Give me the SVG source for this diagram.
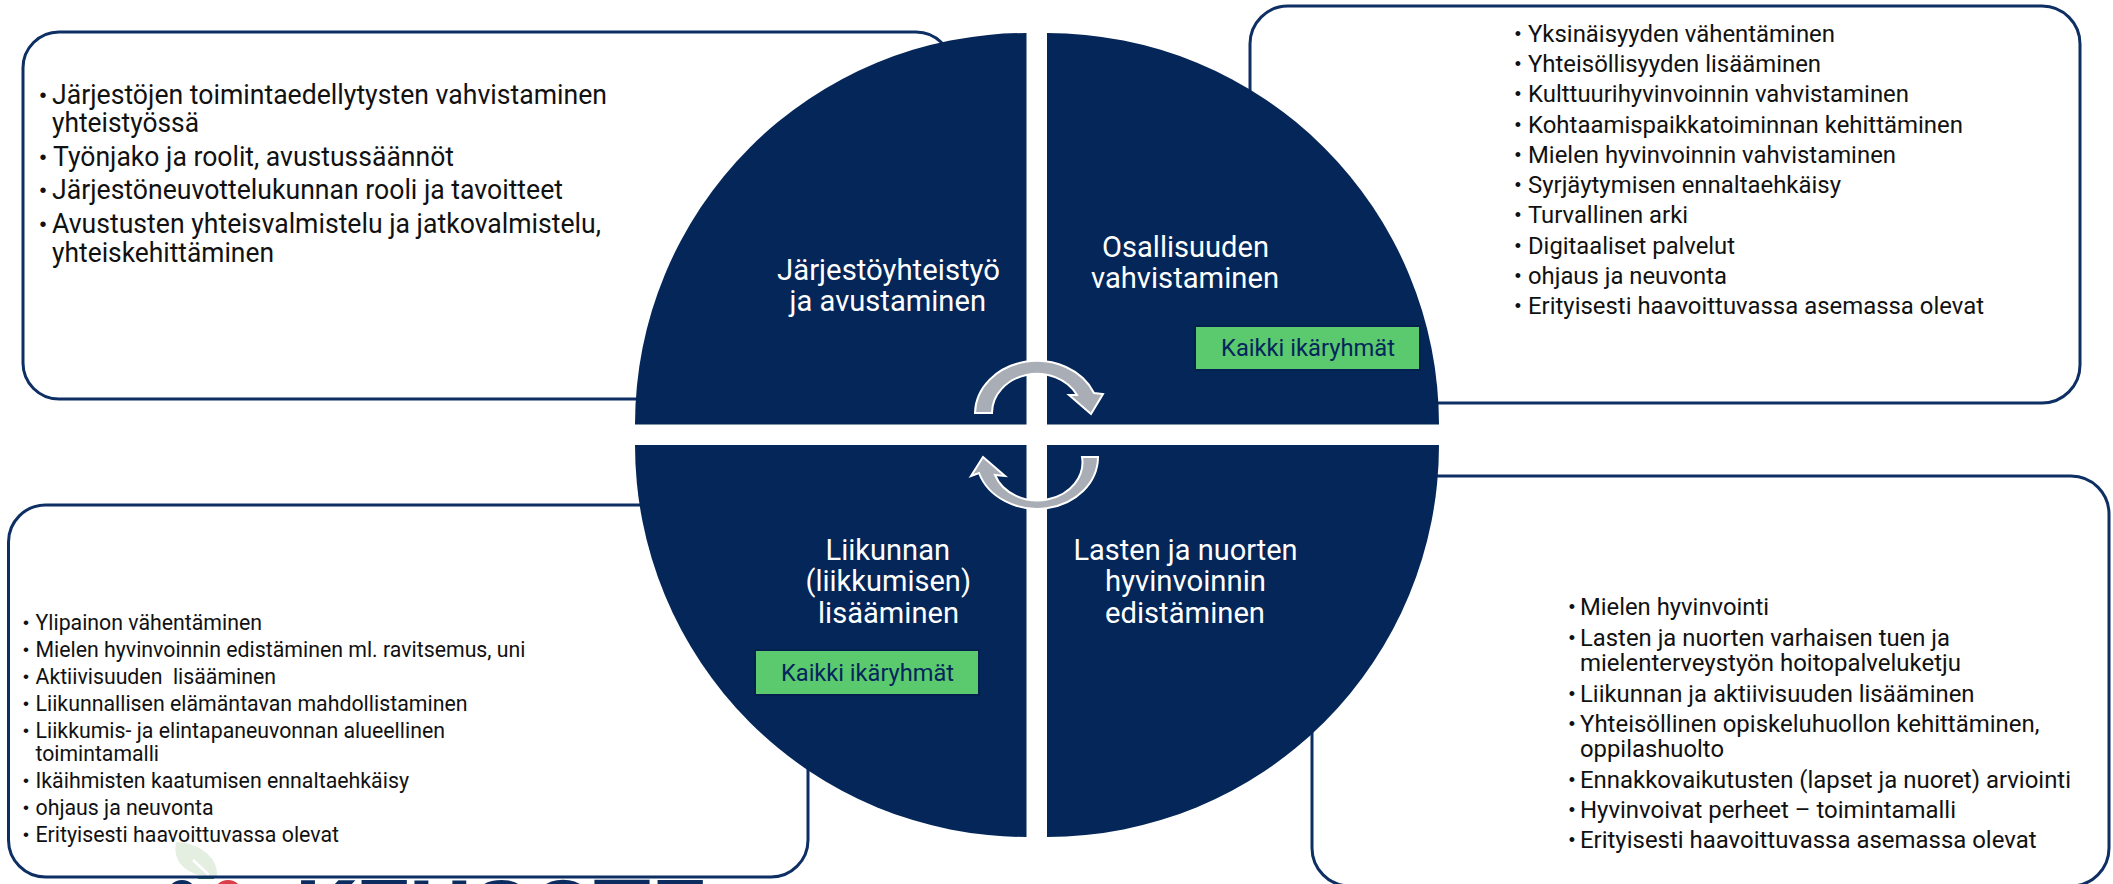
<svg xmlns="http://www.w3.org/2000/svg" width="2113" height="884" viewBox="0 0 2113 884">
<style>
text{font-family:Roboto,"Liberation Sans",sans-serif}
.box{fill:none;stroke:#0e2f63;stroke-width:3}
.quad{fill:#042658}
.lab{fill:#fff;font-size:30px;}
.tag{fill:#5bc96d;stroke:#04204f;stroke-width:2}
.tagt{fill:#04265c;font-size:23px}
.arrow{fill:#a9adb5;stroke:#fff;stroke-width:2}
.t{fill:#111}
.b{fill:#111;text-anchor:middle;font-family:"Liberation Sans",sans-serif;transform:translateY(-1px)}
.s24{font-size:27px}.s22{font-size:24.500px}.s20{font-size:22px}
.b.s24{font-size:20px}.b.s22{font-size:18px}.b.s20{font-size:17px}
</style>
<rect width="2113" height="884" fill="#fff"/>
<g id="logo">
<path d="M176 842C196 842 219 856 217 877C196 878 171 868 176 842Z" fill="#e4efe2"/>
<path d="M193 860L209 875" stroke="#fff" stroke-width="2.500" fill="none"/>
<path d="M198 878L214 878" stroke="#2f8a3c" stroke-width="2" fill="none"/>
<circle cx="182" cy="895" r="15" fill="#0c2c5f"/>
<circle cx="228" cy="895" r="15" fill="#d9404a"/>
<text x="295" y="937" font-size="80" font-weight="700" fill="#0c2c5f" textLength="410" lengthAdjust="spacingAndGlyphs">KEUSOTE</text>
</g>
<g id="box-jarjesto">
<rect class="box" x="23" y="32" width="929" height="367" rx="36" ry="36"/>
<text class="b s24" x="43" y="103">•</text><text class="t s24" x="52" y="104" textLength="555" lengthAdjust="spacingAndGlyphs">Järjestöjen toimintaedellytysten vahvistaminen</text>
<text class="t s24" x="52" y="132" textLength="147" lengthAdjust="spacingAndGlyphs">yhteistyössä</text>
<text class="b s24" x="43" y="165">•</text><text class="t s24" x="53" y="166" textLength="401" lengthAdjust="spacingAndGlyphs">Työnjako ja roolit, avustussäännöt</text>
<text class="b s24" x="43" y="198">•</text><text class="t s24" x="52" y="199" textLength="511" lengthAdjust="spacingAndGlyphs">Järjestöneuvottelukunnan rooli ja tavoitteet</text>
<text class="b s24" x="43" y="232">•</text><text class="t s24" x="52" y="233" textLength="549" lengthAdjust="spacingAndGlyphs">Avustusten yhteisvalmistelu ja jatkovalmistelu,</text>
<text class="t s24" x="52" y="262" textLength="222" lengthAdjust="spacingAndGlyphs">yhteiskehittäminen</text>
</g>
<g id="box-osallisuus">
<rect class="box" x="1250" y="6" width="830" height="397" rx="38" ry="38"/>
<text class="b s22" x="1518" y="41">•</text><text class="t s22" x="1528" y="42" textLength="307" lengthAdjust="spacingAndGlyphs">Yksinäisyyden vähentäminen</text>
<text class="b s22" x="1518" y="71">•</text><text class="t s22" x="1528" y="72" textLength="293" lengthAdjust="spacingAndGlyphs">Yhteisöllisyyden lisääminen</text>
<text class="b s22" x="1518" y="101">•</text><text class="t s22" x="1528" y="102" textLength="381" lengthAdjust="spacingAndGlyphs">Kulttuurihyvinvoinnin vahvistaminen</text>
<text class="b s22" x="1518" y="132">•</text><text class="t s22" x="1528" y="133" textLength="435" lengthAdjust="spacingAndGlyphs">Kohtaamispaikkatoiminnan kehittäminen</text>
<text class="b s22" x="1518" y="162">•</text><text class="t s22" x="1528" y="163" textLength="368" lengthAdjust="spacingAndGlyphs">Mielen hyvinvoinnin vahvistaminen</text>
<text class="b s22" x="1518" y="192">•</text><text class="t s22" x="1528" y="193" textLength="313" lengthAdjust="spacingAndGlyphs">Syrjäytymisen ennaltaehkäisy</text>
<text class="b s22" x="1518" y="222">•</text><text class="t s22" x="1528" y="223" textLength="160" lengthAdjust="spacingAndGlyphs">Turvallinen arki</text>
<text class="b s22" x="1518" y="253">•</text><text class="t s22" x="1528" y="254" textLength="207" lengthAdjust="spacingAndGlyphs">Digitaaliset palvelut</text>
<text class="b s22" x="1518" y="283">•</text><text class="t s22" x="1528" y="284" textLength="199" lengthAdjust="spacingAndGlyphs">ohjaus ja neuvonta</text>
<text class="b s22" x="1518" y="313">•</text><text class="t s22" x="1528" y="314" textLength="456" lengthAdjust="spacingAndGlyphs">Erityisesti haavoittuvassa asemassa olevat</text>
</g>
<g id="box-liikunta">
<rect class="box" x="8.500" y="505" width="799.500" height="372" rx="37" ry="37"/>
<text class="b s20" x="26" y="629">•</text><text class="t s20" x="35.500" y="630" textLength="226.500" lengthAdjust="spacingAndGlyphs">Ylipainon vähentäminen</text>
<text class="b s20" x="26" y="656">•</text><text class="t s20" x="35.500" y="657" textLength="490" lengthAdjust="spacingAndGlyphs">Mielen hyvinvoinnin edistäminen ml. ravitsemus, uni</text>
<text class="b s20" x="26" y="683">•</text><text class="t s20" x="35.500" y="684" textLength="240.500" lengthAdjust="spacingAndGlyphs" style="white-space:pre">Aktiivisuuden  lisääminen</text>
<text class="b s20" x="26" y="710">•</text><text class="t s20" x="35.500" y="711" textLength="432" lengthAdjust="spacingAndGlyphs">Liikunnallisen elämäntavan mahdollistaminen</text>
<text class="b s20" x="26" y="737">•</text><text class="t s20" x="35.500" y="738" textLength="409.500" lengthAdjust="spacingAndGlyphs">Liikkumis- ja elintapaneuvonnan alueellinen</text>
<text class="t s20" x="35.500" y="761" textLength="123.500" lengthAdjust="spacingAndGlyphs">toimintamalli</text>
<text class="b s20" x="26" y="787">•</text><text class="t s20" x="35.500" y="788" textLength="373.500" lengthAdjust="spacingAndGlyphs">Ikäihmisten kaatumisen ennaltaehkäisy</text>
<text class="b s20" x="26" y="814">•</text><text class="t s20" x="35.500" y="815" textLength="178" lengthAdjust="spacingAndGlyphs">ohjaus ja neuvonta</text>
<text class="b s20" x="26" y="841">•</text><text class="t s20" x="35.500" y="842" textLength="303.500" lengthAdjust="spacingAndGlyphs">Erityisesti haavoittuvassa olevat</text>
</g>
<g id="box-lapset">
<rect class="box" x="1312" y="476" width="797" height="410" rx="38" ry="38"/>
<text class="b s22" x="1572" y="614">•</text><text class="t s22" x="1580" y="615" textLength="189" lengthAdjust="spacingAndGlyphs">Mielen hyvinvointi</text>
<text class="b s22" x="1572" y="645">•</text><text class="t s22" x="1580" y="646" textLength="370" lengthAdjust="spacingAndGlyphs">Lasten ja nuorten varhaisen tuen ja</text>
<text class="t s22" x="1580" y="671" textLength="381" lengthAdjust="spacingAndGlyphs">mielenterveystyön hoitopalveluketju</text>
<text class="b s22" x="1572" y="701">•</text><text class="t s22" x="1580" y="702" textLength="394.500" lengthAdjust="spacingAndGlyphs">Liikunnan ja aktiivisuuden lisääminen</text>
<text class="b s22" x="1572" y="731">•</text><text class="t s22" x="1580" y="732" textLength="459.500" lengthAdjust="spacingAndGlyphs">Yhteisöllinen opiskeluhuollon kehittäminen,</text>
<text class="t s22" x="1580" y="757" textLength="144" lengthAdjust="spacingAndGlyphs">oppilashuolto</text>
<text class="b s22" x="1572" y="787">•</text><text class="t s22" x="1580" y="788" textLength="491" lengthAdjust="spacingAndGlyphs">Ennakkovaikutusten (lapset ja nuoret) arviointi</text>
<text class="b s22" x="1572" y="817">•</text><text class="t s22" x="1580" y="818" textLength="376" lengthAdjust="spacingAndGlyphs">Hyvinvoivat perheet – toimintamalli</text>
<text class="b s22" x="1572" y="847">•</text><text class="t s22" x="1580" y="848" textLength="456.500" lengthAdjust="spacingAndGlyphs">Erityisesti haavoittuvassa asemassa olevat</text>
</g>
<g id="quad-jarjesto">
<path class="quad" d="M1026.500 424.500V33A391.500 391.500 0 0 0 635 424.500Z"/>
<text class="lab" x="777" y="280" textLength="223" lengthAdjust="spacingAndGlyphs">Järjestöyhteistyö</text>
<text class="lab" x="789.500" y="311" textLength="196.500" lengthAdjust="spacingAndGlyphs">ja avustaminen</text>
</g>
<g id="quad-osallisuus">
<path class="quad" d="M1047 424.500V33A392 391.500 0 0 1 1439 424.500Z"/>
<text class="lab" x="1102" y="257" textLength="167" lengthAdjust="spacingAndGlyphs">Osallisuuden</text>
<text class="lab" x="1091" y="288" textLength="188" lengthAdjust="spacingAndGlyphs">vahvistaminen</text>
<rect class="tag" x="1195" y="326" width="225" height="44"/>
<text class="tagt" x="1221" y="356" textLength="174" lengthAdjust="spacingAndGlyphs">Kaikki ikäryhmät</text>
</g>
<g id="quad-liikunta">
<path class="quad" d="M1026.500 445V837A391.500 392 0 0 1 635 445Z"/>
<text class="lab" x="825.500" y="560" textLength="124.500" lengthAdjust="spacingAndGlyphs">Liikunnan</text>
<text class="lab" x="805.500" y="591" textLength="165.500" lengthAdjust="spacingAndGlyphs">(liikkumisen)</text>
<text class="lab" x="818" y="623" textLength="141" lengthAdjust="spacingAndGlyphs">lisääminen</text>
<rect class="tag" x="755" y="650" width="224" height="45"/>
<text class="tagt" x="781" y="681" textLength="173" lengthAdjust="spacingAndGlyphs">Kaikki ikäryhmät</text>
</g>
<g id="quad-lapset">
<path class="quad" d="M1047 445V837A392 392 0 0 0 1439 445Z"/>
<text class="lab" x="1073.500" y="560" textLength="224" lengthAdjust="spacingAndGlyphs">Lasten ja nuorten</text>
<text class="lab" x="1105" y="591" textLength="161" lengthAdjust="spacingAndGlyphs">hyvinvoinnin</text>
<text class="lab" x="1105" y="623" textLength="160" lengthAdjust="spacingAndGlyphs">edistäminen</text>
</g>
<g id="connectors">
<path class="arrow" d="M975 413A62 53 0 0 1 1094 393L1103 394L1091 414L1069 395L1077 395A45 39 0 0 0 992 413Z"/>
<path class="arrow" d="M1098 457A61 52 0 0 1 979 473L971 476L983 457L1005 476L995 475A45 38 0 0 0 1082 457Z"/>
</g>
</svg>
